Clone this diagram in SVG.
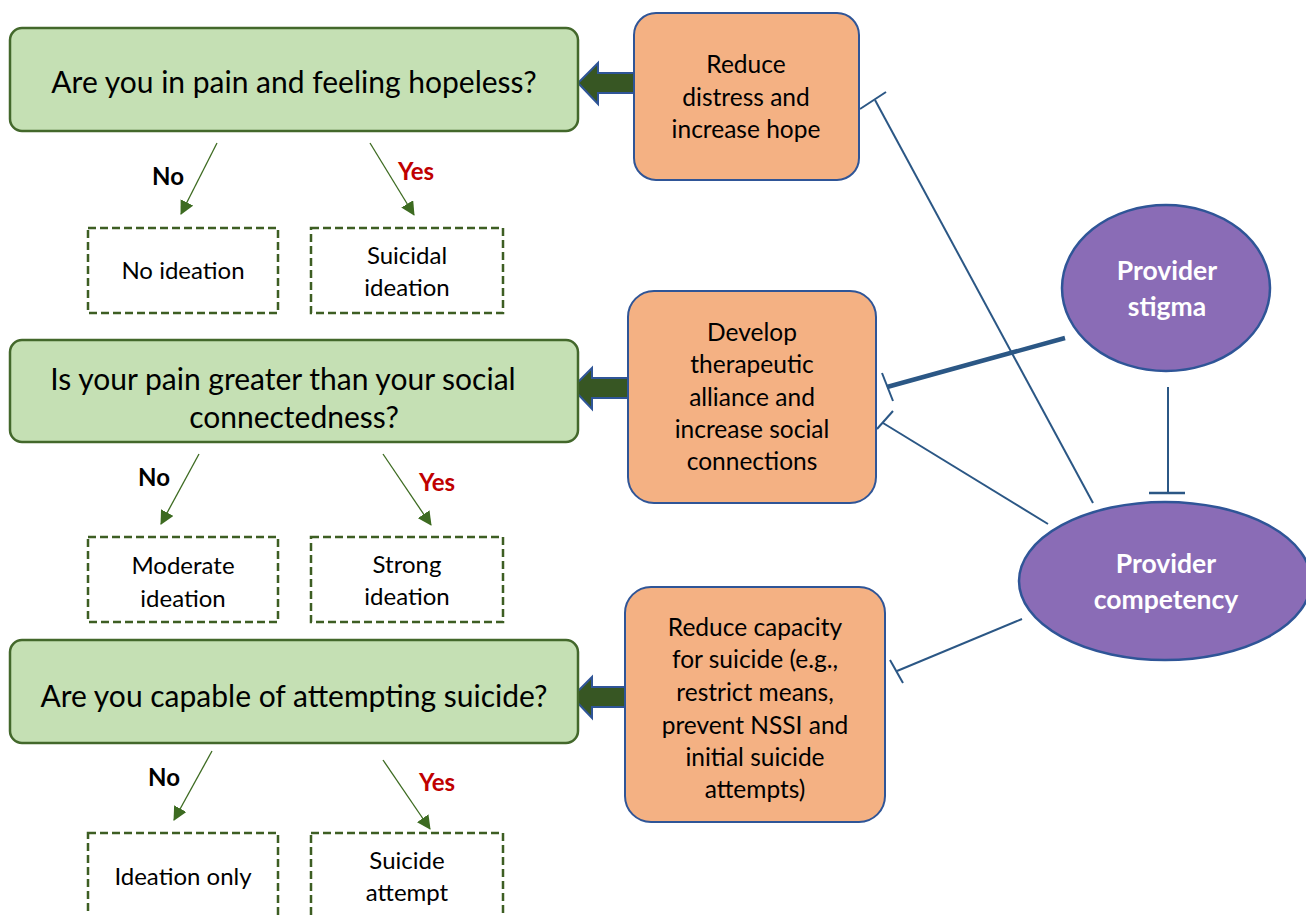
<svg xmlns="http://www.w3.org/2000/svg" width="1306" height="915" viewBox="0 0 1306 915">
<defs>
<style>
.q{fill:#c5e0b4;stroke:#43682b;stroke-width:2.5}
.qt{font-family:Lato,"Liberation Sans",sans-serif;font-size:30px;fill:#000;text-anchor:middle}
.d{fill:#fff;stroke:#3d5e23;stroke-width:2.5;stroke-dasharray:8,4}
.dt{font-family:Lato,"Liberation Sans",sans-serif;font-size:24px;fill:#000;text-anchor:middle}
.o{fill:#f4b183;stroke:#2f5597;stroke-width:2}
.ot{font-family:Lato,"Liberation Sans",sans-serif;font-size:24.5px;fill:#000;text-anchor:middle}
.p{fill:#8a6cb6;stroke:#2f5597;stroke-width:2.5}
.pt{font-family:Lato,"Liberation Sans",sans-serif;font-size:26.5px;font-weight:bold;fill:#fff;text-anchor:middle}
.no{font-family:Lato,"Liberation Sans",sans-serif;font-size:24px;font-weight:bold;fill:#000;text-anchor:middle}
.yes{font-family:Lato,"Liberation Sans",sans-serif;font-size:24px;font-weight:bold;fill:#c00000;text-anchor:middle}
.ba{fill:#375623;stroke:#2f5597;stroke-width:2}
.c{stroke:#2b5785;stroke-width:2;fill:none}
.tb{stroke:#2b5785;stroke-width:2;fill:none}
.g{stroke:#3d6b21;stroke-width:1.3;marker-end:url(#ah2)}
</style>
<marker id="ah2" viewBox="0 0 14 14" refX="13" refY="7" markerWidth="14" markerHeight="14" markerUnits="userSpaceOnUse" orient="auto">
<path d="M0,0 L14,7 L0,14 z" fill="#3d6b21"/>
</marker>
</defs>

<g id="connectors">
<line class="g" x1="217" y1="143" x2="181" y2="214"/>
<line class="g" x1="370" y1="143" x2="414" y2="215"/>
<line class="g" x1="199" y1="454" x2="161" y2="524"/>
<line class="g" x1="383" y1="454" x2="431" y2="525"/>
<line class="g" x1="212" y1="751" x2="174" y2="820"/>
<line class="g" x1="383" y1="760" x2="430" y2="829"/>
<path class="ba" d="M634,73 L598,73 L598,63 L578,83 L598,104 L598,93 L634,93 Z"/>
<path class="ba" d="M628,378 L592,378 L592,368 L572,388 L592,409 L592,398 L628,398 Z"/>
<path class="ba" d="M625,687 L592,687 L592,677 L572,697 L592,718 L592,707 L625,707 Z"/>
<line class="c" x1="1093" y1="503" x2="875" y2="100"/>
<line class="tb" x1="860" y1="109" x2="886" y2="92" stroke="#1f3b6e"/>
<line x1="1065" y1="338" x2="887" y2="387" stroke="#2b5785" stroke-width="4.5"/>
<line class="tb" x1="882" y1="373" x2="893" y2="401"/>
<line class="c" x1="1048" y1="524" x2="883" y2="423"/>
<line class="tb" x1="893" y1="411" x2="877" y2="429"/>
<line class="c" x1="1168" y1="387" x2="1168" y2="493"/>
<line x1="1149" y1="493" x2="1185" y2="493" stroke="#2b5785" stroke-width="2.5"/>
<line class="c" x1="1022" y1="619" x2="897" y2="671"/>
<line class="tb" x1="890" y1="660" x2="903" y2="683"/>
</g>

<g id="q1"><rect class="q" x="10" y="28" width="568" height="103" rx="12"/><text class="qt" x="294" y="93">Are you in pain and feeling hopeless?</text></g>
<g id="q2"><rect class="q" x="10" y="340" width="568" height="102" rx="12"/><text class="qt" x="283" y="390">Is your pain greater than your social</text><text class="qt" x="294" y="428">connectedness?</text></g>
<g id="q3"><rect class="q" x="10" y="640" width="568" height="103" rx="12"/><text class="qt" x="294" y="707">Are you capable of attempting suicide?</text></g>

<g id="labels">
<text class="no" x="168" y="185">No</text>
<text class="yes" x="416" y="180">Yes</text>
<text class="no" x="154" y="486">No</text>
<text class="yes" x="437" y="491">Yes</text>
<text class="no" x="164" y="786">No</text>
<text class="yes" x="437" y="791">Yes</text>
</g>

<g id="r1a"><rect class="d" x="88" y="228" width="190" height="85"/><text class="dt" x="183" y="279">No ideation</text></g>
<g id="r1b"><rect class="d" x="311" y="228" width="192" height="85"/><text class="dt" x="407" y="264">Suicidal</text><text class="dt" x="407" y="296">ideation</text></g>
<g id="r2a"><rect class="d" x="88" y="537" width="190" height="85"/><text class="dt" x="183" y="574">Moderate</text><text class="dt" x="183" y="607">ideation</text></g>
<g id="r2b"><rect class="d" x="311" y="537" width="192" height="85"/><text class="dt" x="407" y="573">Strong</text><text class="dt" x="407" y="605">ideation</text></g>
<g id="r3a"><rect class="d" x="88" y="833" width="190" height="95"/><text class="dt" x="183" y="885">Ideation only</text></g>
<g id="r3b"><rect class="d" x="311" y="833" width="192" height="95"/><text class="dt" x="407" y="869">Suicide</text><text class="dt" x="407" y="901">attempt</text></g>

<g id="o1"><rect class="o" x="634" y="13" width="225" height="167" rx="22"/><text class="ot" x="746" y="73">Reduce</text><text class="ot" x="746" y="106">distress and</text><text class="ot" x="746" y="138">increase hope</text></g>
<g id="o2"><rect class="o" x="628" y="291" width="248" height="212" rx="26"/><text class="ot" x="752" y="341">Develop</text><text class="ot" x="752" y="373">therapeutic</text><text class="ot" x="752" y="406">alliance and</text><text class="ot" x="752" y="438">increase social</text><text class="ot" x="752" y="470">connections</text></g>
<g id="o3"><rect class="o" x="625" y="587" width="260" height="235" rx="26"/><text class="ot" x="755" y="636">Reduce capacity</text><text class="ot" x="755" y="668">for suicide (e.g.,</text><text class="ot" x="755" y="701">restrict means,</text><text class="ot" x="755" y="734">prevent NSSI and</text><text class="ot" x="755" y="766">initial suicide</text><text class="ot" x="755" y="798">attempts)</text></g>

<g id="stigma"><ellipse class="p" cx="1166" cy="288" rx="104" ry="83"/><text class="pt" x="1167" y="280">Provider</text><text class="pt" x="1167" y="316">stigma</text></g>
<g id="competency"><ellipse class="p" cx="1165" cy="581" rx="146" ry="79"/><text class="pt" x="1166" y="573">Provider</text><text class="pt" x="1166" y="609">competency</text></g>
</svg>
